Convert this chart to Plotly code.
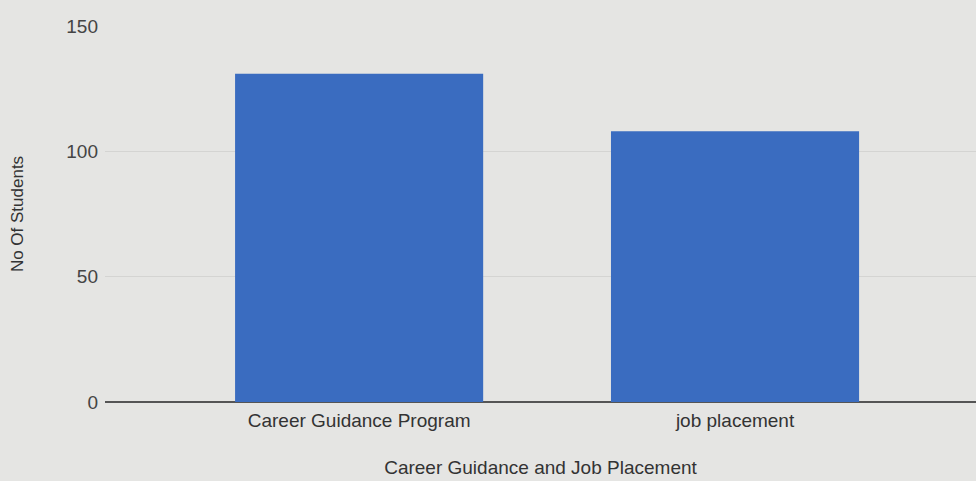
import plotly.graph_objects as go

categories = ["Career Guidance Program", "job placement"]
students = [131, 108]
y_ticks = [0, 50, 100, 150]

fig = go.Figure()
fig.add_trace(go.Bar(
    x=[0, 1],
    y=students,
    width=0.66,
    marker=dict(color="#3a6cc0", line=dict(width=0)),
    hoverinfo="y",
))

fig.update_layout(
    width=976, height=481,
    margin=dict(l=105, r=0, t=26, b=79),
    paper_bgcolor="#e5e5e3",
    plot_bgcolor="#e5e5e3",
    showlegend=False,
    font=dict(family="Liberation Sans, Arial, sans-serif", color="#444444", size=18),
    xaxis=dict(
        range=[-0.676, 1.641],
        tickmode="array",
        tickvals=[0, 1],
        ticktext=categories,
        showgrid=False,
        zeroline=False,
        showline=False,
        ticks="",
        ticklabelstandoff=5,
        tickfont=dict(size=19, color="#333333"),
        title=dict(text="Career Guidance and Job Placement", font=dict(size=19, color="#333333"), standoff=30),
    ),
    yaxis=dict(
        range=[0, 150],
        tickmode="array",
        tickvals=y_ticks,
        showgrid=True,
        gridcolor="#d4d4d2",
        gridwidth=1,
        zeroline=True,
        zerolinecolor="#555555",
        zerolinewidth=1.5,
        showline=False,
        ticks="",
        ticklabelstandoff=6,
        tickfont=dict(size=19, color="#444444"),
        title=dict(text="No Of Students", font=dict(size=17, color="#333333"), standoff=38),
    ),
)

fig.write_html(
    "out.html",
    config={"displayModeBar": False},
    post_script="document.body.style.margin='0';document.body.style.overflow='hidden';",
)
